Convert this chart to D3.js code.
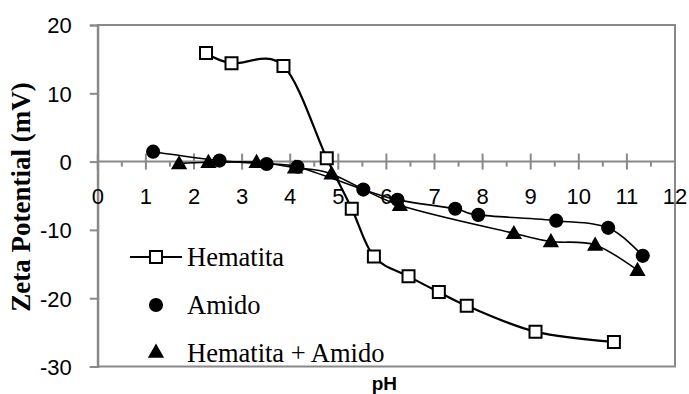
<!DOCTYPE html>
<html><head><meta charset="utf-8">
<script src="https://cdn.jsdelivr.net/npm/d3@7"></script>
<style>html,body{margin:0;padding:0;background:#fff;}svg{display:block;}</style>
</head><body>
<svg id="c" width="689" height="394"></svg>
<script>
// ---- data ----
const seriesNames = ["Hematita", "Amido", "Hematita + Amido"];
const hematitaPH   = [2.25, 2.78, 3.86, 4.76, 5.28, 5.74, 6.46, 7.09, 7.67, 9.10, 10.73];
const hematitaZeta = [15.9, 14.4, 14.0, 0.5, -6.9, -13.9, -16.8, -19.1, -21.1, -24.9, -26.4];
const amidoPH      = [1.15, 2.53, 3.51, 4.15, 5.52, 6.23, 7.43, 7.91, 9.53, 10.61, 11.33];
const amidoZeta    = [1.45, 0.15, -0.35, -0.75, -4.1, -5.6, -6.9, -7.8, -8.65, -9.7, -13.8];
const mixPH        = [1.69, 2.30, 3.30, 4.10, 4.86, 6.28, 8.65, 9.42, 10.34, 11.22];
const mixZeta      = [-0.3, -0.1, -0.1, -0.9, -1.8, -6.4, -10.5, -11.7, -12.2, -15.9];
const xTicks = [0,1,2,3,4,5,6,7,8,9,10,11,12];
const yTicks = [20,10,0,-10,-20,-30];

// ---- layout ----
const svg = d3.select("#c");
const L = 97.8, R = 675, T = 25, B = 366.5;
const x = d3.scaleLinear().domain([0,12]).range([L,R]);
const y = d3.scaleLinear().domain([-30,20]).range([B,T]);
const grey = "#898989";

// plot area border
svg.append("rect").attr("x",L).attr("y",T).attr("width",R-L).attr("height",B-T)
  .attr("fill","none").attr("stroke",grey).attr("stroke-width",2);

// y axis ticks + labels
const yAxis = d3.axisLeft(y).tickValues(yTicks).tickSize(8).tickFormat(d => String(d));
const gy = svg.append("g").attr("transform",`translate(${L},0)`).call(yAxis);
gy.select(".domain").attr("stroke",grey).attr("stroke-width",2);
gy.selectAll(".tick line").attr("stroke",grey).attr("stroke-width",2);
gy.selectAll(".tick text").attr("x",-26).attr("dy","0.36em")
  .style("font-family","'Liberation Sans', Arial, sans-serif").style("font-size","22px").attr("fill","#000");

// x axis at zeta = 0
const y0 = y(0);
const gx = svg.append("g").attr("transform",`translate(0,${y0})`);
gx.append("line").attr("x1",L).attr("x2",R).attr("stroke",grey).attr("stroke-width",2);
const minor = d3.range(0.5, 12, 1);
gx.selectAll("line.minor").data(minor).enter().append("line").attr("class","minor")
  .attr("x1",d=>x(d)).attr("x2",d=>x(d)).attr("y1",0).attr("y2",5)
  .attr("stroke",grey).attr("stroke-width",2);
gx.selectAll("line.major").data(xTicks).enter().append("line").attr("class","major")
  .attr("x1",d=>x(d)).attr("x2",d=>x(d)).attr("y1",-8).attr("y2",8)
  .attr("stroke",grey).attr("stroke-width",2);

// line generators
const line = d3.line().x(d=>x(d[0])).y(d=>y(d[1])).curve(d3.curveCatmullRom.alpha(0));
const hem = hematitaPH.map((p,i)=>[p,hematitaZeta[i]]);
const ami = amidoPH.map((p,i)=>[p,amidoZeta[i]]);
const mix = mixPH.map((p,i)=>[p,mixZeta[i]]);

svg.append("path").datum(hem).attr("d",line).attr("fill","none").attr("stroke","#000").attr("stroke-width",2.2);
svg.append("path").datum(ami).attr("d",line).attr("fill","none").attr("stroke","#000").attr("stroke-width",1.6);
svg.append("path").datum(mix).attr("d",line).attr("fill","none").attr("stroke","#000").attr("stroke-width",1.6);

const sqSym = d3.symbol().type(d3.symbolSquare).size(144);
const ciSym = d3.symbol().type(d3.symbolCircle).size(Math.PI*50);
const trSym = d3.symbol().type(d3.symbolTriangle).size(115);

svg.selectAll("path.sq").data(hem).enter().append("path").attr("class","sq")
  .attr("d",sqSym).attr("transform",d=>`translate(${x(d[0])},${y(d[1])})`)
  .attr("fill","#fff").attr("stroke","#000").attr("stroke-width",2);
svg.selectAll("path.ci").data(ami).enter().append("path").attr("class","ci")
  .attr("d",ciSym).attr("transform",d=>`translate(${x(d[0])},${y(d[1])})`)
  .attr("fill","#000");
svg.selectAll("path.tr").data(mix).enter().append("path").attr("class","tr")
  .attr("d",trSym).attr("transform",d=>`translate(${x(d[0])},${y(d[1])+1})`)
  .attr("fill","#000");

// x tick labels
gx.selectAll("text").data(xTicks).enter().append("text")
  .attr("x",d=>x(d)).attr("y",42.5).attr("text-anchor","middle")
  .style("font-family","'Liberation Sans', Arial, sans-serif").style("font-size","22px").text(d=>d);

// legend
const lg = svg.append("g");
const lx = 156, ly = [257, 305, 353];
lg.append("line").attr("x1",lx-26).attr("x2",lx+26).attr("y1",ly[0]).attr("y2",ly[0]).attr("stroke","#000").attr("stroke-width",2.2);
lg.append("path").attr("d",sqSym).attr("transform",`translate(${lx},${ly[0]})`).attr("fill","#fff").attr("stroke","#000").attr("stroke-width",2);
lg.append("path").attr("d",ciSym).attr("transform",`translate(${lx},${ly[1]})`).attr("fill","#000");
lg.append("path").attr("d",trSym).attr("transform",`translate(${lx},${ly[2]})`).attr("fill","#000");
lg.selectAll("text").data(seriesNames).enter().append("text")
  .attr("x",187).attr("y",(d,i)=>ly[i]+8.5)
  .style("font-family","'Liberation Serif','Times New Roman',serif").style("font-size","26.5px").text(d=>d);

// axis titles
svg.append("text").attr("x",(L+R)/2-2).attr("y",390).attr("text-anchor","middle")
  .style("font-family","'Liberation Sans', Arial, sans-serif").style("font-size","19px").style("font-weight","bold").text("pH");
svg.append("text").attr("transform","translate(30,197) rotate(-90)").attr("text-anchor","middle")
  .style("font-family","'Liberation Serif','Times New Roman',serif").style("font-size","27px").style("font-weight","bold").text("Zeta Potential (mV)");
</script>
</body></html>
